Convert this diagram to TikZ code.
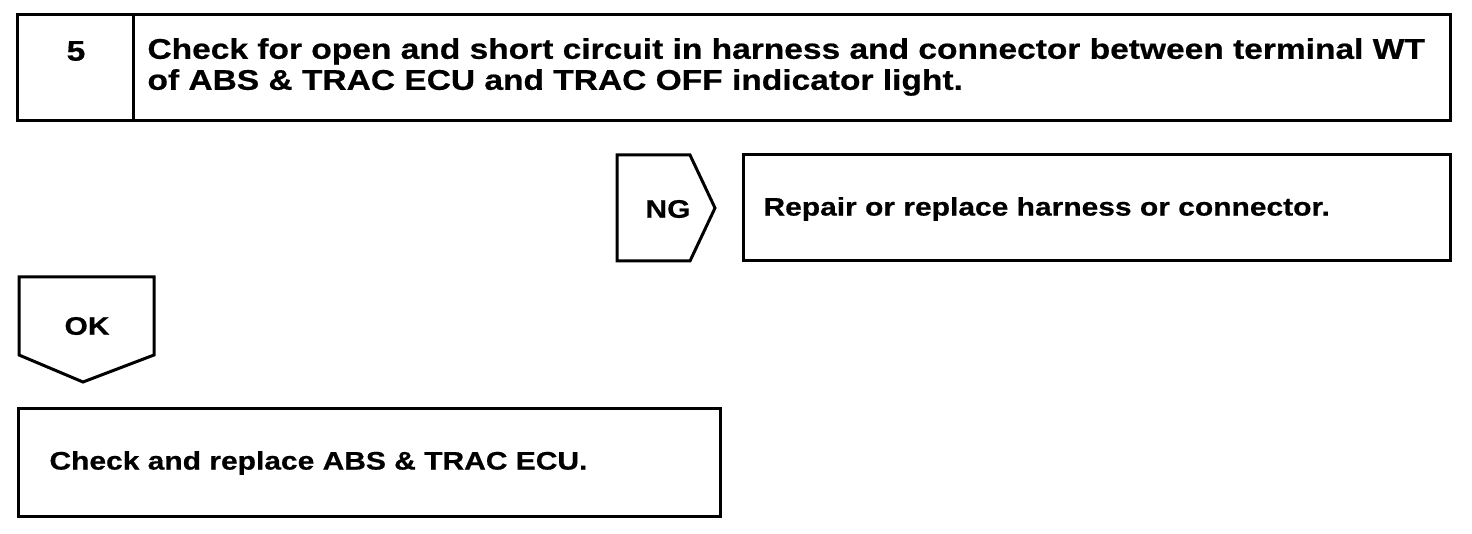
\documentclass[tikz,border=0pt]{standalone}
\usepackage{fontspec}
\setmainfont[FakeStretch=1.18,BoldFeatures={FakeBold=0.6}]{Liberation Sans}
\begin{document}
\begin{tikzpicture}[x=1pt,y=-1pt,line width=3pt,
  txt/.style={font=\fontsize{25.4}{27}\selectfont\bfseries,inner sep=0pt},
  head/.style={txt,font=\fontsize{28.4}{31}\selectfont\bfseries}]
\useasboundingbox (0,0) rectangle (1472,534);
% step 5
\draw (17,15) rectangle (1450,121);
\draw (133,15) -- (133,121);
\node [head] (num) at (76,51) {5};
\node [head, anchor=west, align=left] (check) at (146,67) {Check for open and short circuit in harness and connector between terminal WT\\of ABS \& TRAC ECU and TRAC OFF indicator light.};
% NG branch
\draw (617,155) -- (690,155) -- (715,208) -- (690,261) -- (617,261) -- cycle;
\node [txt] (ng) at (668,209) {NG};
\draw (743,155) rectangle (1450,261);
\node [txt, anchor=west] (repair) at (762,209) {Repair or replace harness or connector.};
% OK branch
\draw (19,277) -- (154,277) -- (154,355) -- (83,382) -- (19,355) -- cycle;
\node [txt] (ok) at (87,326) {OK};
\draw (18,408) rectangle (720,516);
\node [txt, anchor=west] (ecu) at (48,463) {Check and replace ABS \& TRAC ECU.};
\end{tikzpicture}
\end{document}
